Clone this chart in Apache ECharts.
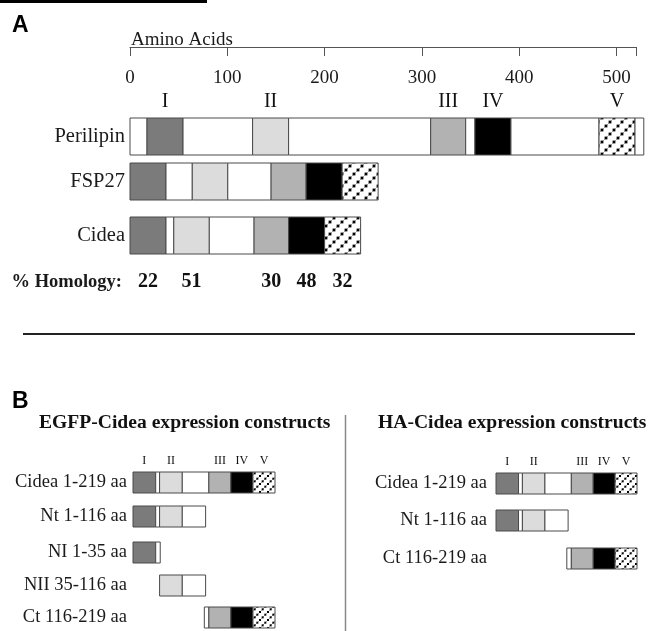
<!DOCTYPE html>
<html><head><meta charset="utf-8">
<script src="https://cdn.jsdelivr.net/npm/echarts@6/dist/echarts.min.js"></script>
<style>html,body{margin:0;padding:0;background:#fff}#c{width:649px;height:631px}</style>
</head><body><div id="c"></div>
<script>
// ---------------- DATA ----------------
const axisTicks = [0, 100, 200, 300, 400, 500];
const axisMax = 520;
const proteinNames = ['Perilipin', 'FSP27', 'Cidea'];
const domainLabels = ['I', 'II', 'III', 'IV', 'V'];
// segments: [start aa, end aa, domain index (0 = none)]
const perilipinSegments = [[0,17.5,0],[17.5,54.5,1],[54.5,126,0],[126,163,2],[163,309,0],[309,345,3],[345,354.5,0],[354.5,391.5,4],[391.5,482,0],[482,519,5],[519,528,0]];
const fsp27Segments = [[0,37,1],[37,64,0],[64,100.5,2],[100.5,145,0],[145,181,3],[181,218,4],[218,255,5]];
const cideaSegments = [[0,37,1],[37,45,0],[45,81.5,2],[81.5,127.5,0],[127.5,163,3],[163,200,4],[200,237,5]];
const homologyLabel = '% Homology:';
const homology = [22, 51, 30, 48, 32];

const egfpTitle = 'EGFP-Cidea expression constructs';
const haTitle = 'HA-Cidea expression constructs';
const constructMax = 219;
const egfpNames = ['Cidea 1-219 aa', 'Nt 1-116 aa', 'NI 1-35 aa', 'NII 35-116 aa', 'Ct 116-219 aa'];
const haNames = ['Cidea 1-219 aa', 'Nt 1-116 aa', 'Ct 116-219 aa'];
const cideaFullB = [[0,35,1],[35,41,0],[41,76,2],[76,117,0],[117,151,3],[151,185,4],[185,219,5]];
const ntB = [[0,35,1],[35,41,0],[41,76,2],[76,112,0]];
const niB = [[0,35,1],[35,42,0]];
const niiB = [[41,76,2],[76,112,0]];
const ctB = [[110,117,0],[117,151,3],[151,185,4],[185,219,5]];
const egfpSegments = [cideaFullB, ntB, niB, niiB, ctB];
const haSegments = [cideaFullB, ntB, ctB];

// ---------------- STYLE / LAYOUT ----------------
const SERIF = '"Liberation Serif","Times New Roman",serif';
const SANS = '"Liberation Sans",Arial,sans-serif';
function makePattern(size, dot) {
  const c = document.createElement('canvas'); c.width = size; c.height = size;
  const g = c.getContext('2d');
  g.fillStyle = '#fff'; g.fillRect(0, 0, size, size);
  g.strokeStyle = 'rgba(0,0,0,0.35)'; g.lineWidth = 0.8;
  g.beginPath(); g.moveTo(0, size); g.lineTo(size, 0); g.stroke();
  g.fillStyle = '#000';
  const n = 3;
  for (let k = 0; k < n; k++) { const t = (k + 0.5) / n; g.fillRect(t * size - dot / 2, size - t * size - dot / 2, dot, dot); }
  return c;
}
const patA = makePattern(12, 2.8);
const patB = makePattern(8, 2);
const domainColors = ['#ffffff', '#7b7b7b', '#dcdcdc', '#b2b2b2', '#000000'];
function fillFor(d, pat) { return d === 5 ? { image: pat, repeat: 'repeat' } : domainColors[d]; }

const option = { animation: false, grid: [], xAxis: [], yAxis: [], series: [], graphic: [] };

function addRow(cfg) {
  const i = option.grid.length;
  option.grid.push({ left: cfg.left, top: cfg.top, width: cfg.width, height: cfg.height });
  option.xAxis.push(Object.assign({ gridIndex: i, type: 'value', min: 0, max: cfg.max, show: false, splitLine: { show: false } }, cfg.xAxis || {}));
  option.yAxis.push({ gridIndex: i, type: 'category', data: [cfg.name],
    axisLine: { show: false }, axisTick: { show: false }, splitLine: { show: false },
    axisLabel: { fontFamily: SERIF, fontSize: cfg.fontSize, color: '#1a1a1a', margin: cfg.margin, fontWeight: cfg.bold ? 'bold' : 'normal' } });
  if (cfg.segs) {
    const pat = cfg.pat;
    option.series.push({ type: 'custom', xAxisIndex: i, yAxisIndex: i, clip: false, data: cfg.segs, encode: { x: [0, 1] },
      renderItem: (params, api) => {
        const x0 = api.coord([api.value(0), 0])[0];
        const x1 = api.coord([api.value(1), 0])[0];
        const cs = params.coordSys;
        return { type: 'rect', shape: { x: x0, y: cs.y, width: x1 - x0, height: cs.height },
          style: { fill: fillFor(api.value(2), pat), stroke: '#4a4a4a', lineWidth: 1 } };
      } });
  }
  return i;
}
function addTexts(i, data, textFn, cfg) {
  option.series.push({ type: 'custom', xAxisIndex: i, yAxisIndex: i, clip: false, data: data, encode: { x: [0, 1] },
    renderItem: (params, api) => {
      const x0 = api.coord([api.value(0), 0])[0];
      const x1 = api.coord([api.value(1), 0])[0];
      const cs = params.coordSys;
      return { type: 'text', x: (x0 + x1) / 2, y: cfg.dy === 'mid' ? cs.y + cs.height / 2 : cs.y - cfg.dy,
        style: { text: textFn(api.value(2)), fontFamily: SERIF, fontSize: cfg.fontSize, fontWeight: cfg.bold ? 'bold' : 'normal',
          fill: '#111', align: 'center', verticalAlign: 'middle' } };
    } });
}

// ---------- Panel A ----------
const rowTopsA = [118, 163, 217];
const segsA = [perilipinSegments, fsp27Segments, cideaSegments];
proteinNames.forEach((name, k) => {
  const xa = k === 0 ? {
    show: true, position: 'top', offset: rowTopsA[0] - 47, interval: 100,
    axisLine: { show: true, lineStyle: { color: '#555', width: 1 } },
    axisTick: { show: true, inside: true, length: 9, lineStyle: { color: '#555' } },
    axisLabel: { show: true, inside: true, margin: 22, fontFamily: SERIF, fontSize: 19, color: '#1a1a1a',
      formatter: v => axisTicks.includes(v) ? String(v) : '' },
    name: 'Amino Acids', nameLocation: 'start', nameGap: -1,
    nameTextStyle: { align: 'left', verticalAlign: 'bottom', fontFamily: SERIF, fontSize: 19, color: '#1a1a1a', lineHeight: 14 }
  } : {};
  const i = addRow({ left: 130, width: 506, top: rowTopsA[k], height: 37, max: axisMax, name, segs: segsA[k], pat: patA, fontSize: 20.5, margin: 5, xAxis: xa });
  if (k === 0) addTexts(i, perilipinSegments.filter(s => s[2] > 0), d => domainLabels[d - 1], { dy: 16, fontSize: 20 });
});
const hi = addRow({ left: 130, width: 506, top: 270, height: 24, max: axisMax, name: homologyLabel, fontSize: 18.5, margin: 8, bold: true });
addTexts(hi, cideaSegments.filter(s => s[2] > 0).map((s, k) => [s[0], s[1], homology[k]]), v => String(v), { dy: 'mid', fontSize: 20, bold: true });

// ---------- Panel B ----------
const rowTopsEGFP = [472, 506, 542, 575, 607];
egfpNames.forEach((name, k) => {
  const i = addRow({ left: 133, width: 142, top: rowTopsEGFP[k], height: 21, max: constructMax, name, segs: egfpSegments[k], pat: patB, fontSize: 18.5, margin: 6 });
  if (k === 0) addTexts(i, cideaFullB.filter(s => s[2] > 0), d => domainLabels[d - 1], { dy: 11, fontSize: 12 });
});
const rowTopsHA = [473, 510, 548];
haNames.forEach((name, k) => {
  const i = addRow({ left: 496, width: 141, top: rowTopsHA[k], height: 21, max: constructMax, name, segs: haSegments[k], pat: patB, fontSize: 18.5, margin: 9 });
  if (k === 0) addTexts(i, cideaFullB.filter(s => s[2] > 0), d => domainLabels[d - 1], { dy: 11, fontSize: 12 });
});

// ---------- decorations ----------
option.graphic = [
  { type: 'rect', shape: { x: 0, y: 0, width: 207, height: 3 }, style: { fill: '#000' } },
  { type: 'text', x: 12, y: 14, style: { text: 'A', font: 'bold 23px ' + SANS, fill: '#000' } },
  { type: 'line', shape: { x1: 23, y1: 334, x2: 635, y2: 334 }, style: { stroke: '#222', lineWidth: 2 } },
  { type: 'text', x: 12, y: 390, style: { text: 'B', font: 'bold 23px ' + SANS, fill: '#000' } },
  { type: 'line', shape: { x1: 345.5, y1: 415, x2: 345.5, y2: 631 }, style: { stroke: '#888', lineWidth: 1.5 } },
  { type: 'text', x: 39, y: 423, style: { text: egfpTitle, font: 'bold 19.6px ' + SERIF, fill: '#111', verticalAlign: 'middle' } },
  { type: 'text', x: 378, y: 423, style: { text: haTitle, font: 'bold 19.6px ' + SERIF, fill: '#111', verticalAlign: 'middle' } }
];

const chart = echarts.init(document.getElementById('c'), null, { renderer: 'canvas' });
chart.setOption(option);
</script></body></html>
